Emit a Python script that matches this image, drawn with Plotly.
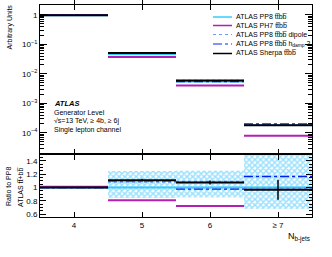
import plotly.graph_objects as go

# ---- data ----
bin_labels = ["4", "5", "6", "≥ 7"]
bin_centers = [4, 5, 6, 7]

# top panel (arbitrary units)
pp8_top = [0.97, 0.046, 0.0055, 1.85e-4]
ph7_top = [0.98, 0.037, 0.0040, 8.0e-5]
dipole_top = [0.97, 0.050, 0.0060, 1.85e-4]
hdamp_top = [0.97, 0.051, 0.0054, 2.0e-4]
sherpa_top = [0.97, 0.051, 0.0059, 1.80e-4]

# ratio panel (to PP8)
pp8_ratio = [1.0, 1.0, 1.0, 1.0]
ph7_ratio = [1.01, 0.81, 0.725, 0.42]
dipole_ratio = [1.0, 1.08, 1.09, 0.99]
hdamp_ratio = [1.0, 1.10, 0.975, 1.165]
sherpa_ratio = [1.0, 1.11, 1.075, 0.966]
sherpa_ratio_err = [0.005, 0.02, 0.03, 0.15]
band_low = [0.99, 0.845, 0.85, 0.68]
band_high = [1.01, 1.245, 1.25, 1.60]

log_tick_vals = [1e-4, 1e-3, 1e-2, 1e-1, 1]
log_tick_text = ["10<sup>\u22124</sup>", "10<sup>\u22123</sup>", "10<sup>\u22122</sup>",
                 "10<sup>\u22121</sup>", "1"]
ratio_tick_vals = [0.6, 0.8, 1.0, 1.2, 1.4]
ratio_tick_text = ["0.6", "0.8", "1", "1.2", "1.4"]

legend_names = ["ATLAS PP8 tt\u0305bb\u0305", "ATLAS PH7 tt\u0305bb\u0305",
                "ATLAS PP8 tt\u0305bb\u0305 dipole", "ATLAS PP8 tt\u0305bb\u0305 h<sub>damp</sub> 2",
                "ATLAS Sherpa tt\u0305bb\u0305"]

colors = ["#33ccff", "#b31fb3", "#6699ff", "#0022ee", "#000000"]
dashes = ["solid", "solid", "dot", "dashdot", "solid"]
widths = [2, 2, 1.3, 1.3, 2]

FONT = "Liberation Sans, Arial, sans-serif"

fig = go.Figure()


def steps(vals):
    xs, ys = [], []
    for c, v in zip(bin_centers, vals):
        xs += [c - 0.5, c + 0.5, None]
        ys += [v, v, None]
    return xs, ys


# uncertainty band (hatched)
fig.add_trace(go.Bar(x=bin_centers, base=band_low,
                     y=[h - l for h, l in zip(band_high, band_low)], width=1,
                     xaxis="x", yaxis="y2",
                     marker=dict(color="rgba(0,0,0,0)", line=dict(width=0),
                                 pattern=dict(shape="x", fgcolor="#2cc0ff",
                                              bgcolor="rgba(0,0,0,0)", size=4,
                                              solidity=0.6)),
                     showlegend=False, hoverinfo="skip"))

tops = [pp8_top, ph7_top, dipole_top, hdamp_top, sherpa_top]
ratios = [pp8_ratio, ph7_ratio, dipole_ratio, hdamp_ratio, sherpa_ratio]
for i in range(5):
    xs, ys = steps(tops[i])
    fig.add_trace(go.Scatter(x=xs, y=ys, mode="lines", xaxis="x2", yaxis="y",
                             line=dict(color=colors[i], dash=dashes[i], width=widths[i]),
                             showlegend=False))
    xs, ys = steps(ratios[i])
    fig.add_trace(go.Scatter(x=xs, y=ys, mode="lines", xaxis="x", yaxis="y2",
                             line=dict(color=colors[i], dash=dashes[i], width=widths[i]),
                             showlegend=False))

# sherpa error bars in ratio
fig.add_trace(go.Scatter(x=bin_centers, y=sherpa_ratio, mode="markers", xaxis="x", yaxis="y2",
                         marker=dict(size=1, color="black"),
                         error_y=dict(type="data", array=sherpa_ratio_err, color="black",
                                      thickness=1.5, width=0),
                         showlegend=False))

# empty trace to carry the minor-tick overlay axis
fig.add_trace(go.Scatter(x=[None], y=[None], xaxis="x2", yaxis="y3", showlegend=False,
                         hoverinfo="skip"))

axis_common = dict(showline=True, linecolor="black", linewidth=1, mirror="allticks",
                   ticks="inside", tickcolor="black", showgrid=False, zeroline=False,
                   automargin=False,
                   tickfont=dict(family=FONT, size=8, color="black"))

log_minor = [m * 10 ** e for e in range(-5, 1) for m in range(2, 10)]

fig.update_layout(
    xaxis=dict(range=[3.5, 7.5], tickvals=bin_centers, ticktext=bin_labels, ticklen=5,
               anchor="y2", domain=[0, 1], **axis_common),
    xaxis2=dict(range=[3.5, 7.5], tickvals=bin_centers, ticktext=bin_labels, ticklen=5,
                anchor="y", matches="x", showticklabels=False, domain=[0, 1], **axis_common),
    yaxis=dict(type="log", range=[-4.72, 0.33], tickmode="array", tickvals=log_tick_vals,
               ticktext=log_tick_text, ticklen=7, domain=[0.297, 1], anchor="x2",
               **axis_common),
    yaxis3=dict(type="log", range=[-4.72, 0.33], tickmode="array", tickvals=log_minor,
                showticklabels=False, ticks="inside", ticklen=4, tickcolor="black",
                mirror="allticks", showline=False, showgrid=False, zeroline=False,
                overlaying="y", anchor="x2", automargin=False),
    yaxis2=dict(range=[0.56, 1.5], tickvals=ratio_tick_vals,
                ticktext=ratio_tick_text, ticklen=6, domain=[0, 0.297],
                anchor="x",
                minor=dict(ticks="inside", ticklen=3, dtick=0.05, tickcolor="black"),
                **axis_common),
)

H = 212.0
W = 272.0


def px(x):
    return (x - 40) / W


def py(y):
    return (217 - y) / H


ann = []
txt_font = dict(family=FONT, size=7, color="black")
ann.append(dict(x=px(52), y=py(103), text="<b><i>ATLAS</i></b>", font=dict(family=FONT, size=7.5, color="black"),
                xanchor="left", yanchor="middle"))
ann.append(dict(x=px(52), y=py(112), text="Generator Level", font=txt_font, xanchor="left", yanchor="middle"))
ann.append(dict(x=px(52), y=py(121), text="\u221As=13 TeV, \u2265 4b, \u2265 6j", font=txt_font,
                xanchor="left", yanchor="middle"))
ann.append(dict(x=px(52), y=py(130), text="Single lepton channel", font=txt_font, xanchor="left", yanchor="middle"))

# axis titles
ann.append(dict(x=px(10), y=py(3), text="Arbitrary Units", textangle=-90, font=txt_font,
                xanchor="center", yanchor="top"))
ann.append(dict(x=px(8), y=py(187), text="Ratio to PP8", textangle=-90, font=txt_font,
                xanchor="center", yanchor="middle"))
ann.append(dict(x=px(20), y=py(187), text="ATLAS tt\u0305+bb\u0305", textangle=-90, font=txt_font,
                xanchor="center", yanchor="middle"))
ann.append(dict(x=px(312), y=py(237), text="N<sub>b-jets</sub>", font=dict(family=FONT, size=9, color="black"),
                xanchor="right", yanchor="middle"))

# manual legend
leg_y = [17, 25.5, 34.5, 44, 53.5]
shapes = []
for i in range(5):
    shapes.append(dict(type="line", xref="paper", yref="paper", x0=px(213), x1=px(232),
                       y0=py(leg_y[i]), y1=py(leg_y[i]),
                       line=dict(color=colors[i], dash=dashes[i], width=widths[i] * 0.75)))
    ann.append(dict(x=px(234), y=py(leg_y[i]), text=legend_names[i], font=txt_font,
                    xanchor="left", yanchor="middle"))

for a in ann:
    a.update(xref="paper", yref="paper", showarrow=False)

fig.update_layout(width=332, height=257, margin=dict(l=40, r=20, t=5, b=40, autoexpand=False),
                  plot_bgcolor="white", paper_bgcolor="white", annotations=ann, shapes=shapes,
                  barmode="overlay", showlegend=False)

fig.write_html("out.html", config={"displayModeBar": False},
               post_script="document.body.style.margin='0px';")
